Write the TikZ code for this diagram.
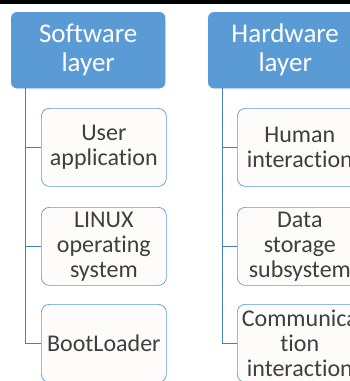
\documentclass[tikz,border=0pt]{standalone}
\usepackage{fontspec}
\setmainfont{Carlito}[Ligatures=NoCommon]
\definecolor{layerblue}{HTML}{5B9BD5}
\definecolor{linkblue}{HTML}{4A7EBB}
\definecolor{itemfill}{HTML}{FDFCFA}
\definecolor{textgray}{HTML}{3F3F3F}

\begin{document}
\begin{tikzpicture}[x=1pt, y=-1pt,
  layer/.style={draw=layerblue, fill=layerblue, rounded corners=6pt, anchor=north west,
    minimum width=154pt, minimum height=76pt, inner sep=0pt, align=center,
    text=white, font=\fontsize{27}{29}\selectfont},
  item/.style={draw=layerblue, line width=0.7pt, fill=itemfill, rounded corners=8pt, anchor=north west,
    minimum width=125pt, minimum height=78pt, inner sep=0pt, align=center,
    text=textgray, font=\fontsize{24}{25}\selectfont},
  link/.style={draw=linkblue, line width=0.8pt}]
  % Cadre de l'image
  \useasboundingbox (0,0) rectangle (350,381);
  \clip (0,0) rectangle (350,381);
  % 1. Trait noir du haut
  \fill[black] (0,0) rectangle (350,4);
  % 2. Les deux couches
  \node[layer] (sw) at (11,12) {Software\\layer};
  \node[layer] (hw) at (208,12) {Hardware\\layer};
  % 3. Couche logicielle
  \node[item] (user) at (41,108) {User\\application};
  \node[item] (linux) at (41,207) {LINUX\\operating\\system};
  \node[item] (boot) at (41,304) {BootLoader};
  % 4. Couche materielle
  \node[item] (human) at (237,108) {Human\\interaction};
  \node[item] (data) at (237,207) {Data\\storage\\subsystem};
  \node[item] (comm) at (237,304) {Communica\\tion\\interaction};
  % 5. Liaisons
  \foreach \c in {user, linux, boot}
    \draw[link] (sw.south west) ++(14,0) |- (\c.west);
  \foreach \c in {human, data, comm}
    \draw[link] (hw.south west) ++(14,0) |- (\c.west);
\end{tikzpicture}
\end{document}
